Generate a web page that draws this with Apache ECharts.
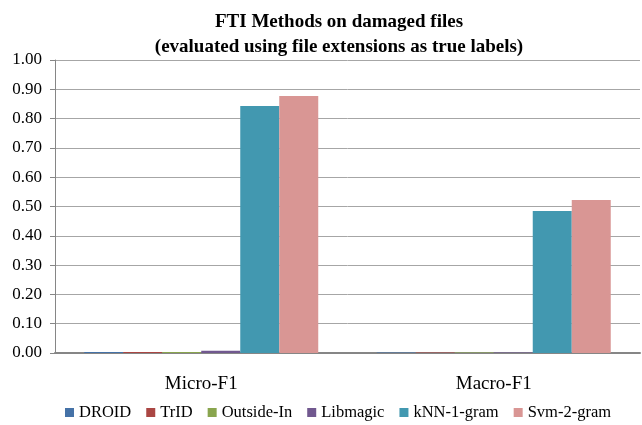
<!DOCTYPE html>
<html><head><meta charset="utf-8">
<script src="https://cdn.jsdelivr.net/npm/echarts@6/dist/echarts.min.js"></script>
<style>html,body{margin:0;padding:0;background:#fff}#c{width:642px;height:425px}</style>
</head><body><div id="c"></div>
<script>
const categories = ['Micro-F1', 'Macro-F1'];
const seriesNames = ['DROID', 'TrID', 'Outside-In', 'Libmagic', 'kNN-1-gram', 'Svm-2-gram'];
const droid = [0.003, 0.002];
const trid = [0.003, 0.002];
const outsideIn = [0.003, 0.002];
const libmagic = [0.008, 0.002];
const knn = [0.843, 0.485];
const svm = [0.877, 0.522];
const yTicks = [0, 0.1, 0.2, 0.3, 0.4, 0.5, 0.6, 0.7, 0.8, 0.9, 1.0];
const colors = ['#4572A7', '#AA4643', '#89A54E', '#71588F', '#4298B0', '#D99694'];
const values = [droid, trid, outsideIn, libmagic, knn, svm];
const serif = '"Liberation Serif", "Times New Roman", serif';

const chart = echarts.init(document.getElementById('c'));
chart.setOption({
  animation: false,
  title: {
    text: 'FTI Methods on damaged files\n(evaluated using file extensions as true labels)',
    left: 334, textAlign: 'center', top: 5,
    textStyle: { fontFamily: serif, fontWeight: 'bold', fontSize: 19, lineHeight: 25, color: '#000' }
  },
  legend: {
    top: 399, left: 60, width: 600, icon: 'rect', itemWidth: 9, itemHeight: 9, itemGap: 15,
    data: seriesNames,
    textStyle: { fontFamily: serif, fontSize: 16.5, color: '#000' }
  },
  grid: { left: 55, right: 2, top: 60, bottom: 72, containLabel: false },
  xAxis: {
    type: 'category', data: categories,
    axisLine: { lineStyle: { color: '#868686', width: 2 } },
    axisTick: { show: false },
    axisLabel: { fontFamily: serif, fontSize: 19, color: '#000', margin: 22 }
  },
  yAxis: {
    type: 'value', min: yTicks[0], max: yTicks[yTicks.length - 1], interval: 0.1,
    axisLine: { show: true, lineStyle: { color: '#868686', width: 1 } },
    axisTick: { show: true, length: 5, lineStyle: { color: '#868686' } },
    axisLabel: { fontFamily: serif, fontSize: 17, color: '#000', margin: 13, formatter: v => v.toFixed(2) },
    splitLine: { lineStyle: { color: '#A6A6A6', width: 1 } }
  },
  series: seriesNames.map((n, i) => ({
    name: n, type: 'bar', data: values[i],
    barGap: '0%', barCategoryGap: '20%',
    itemStyle: { color: colors[i] }
  }))
});
</script></body></html>
